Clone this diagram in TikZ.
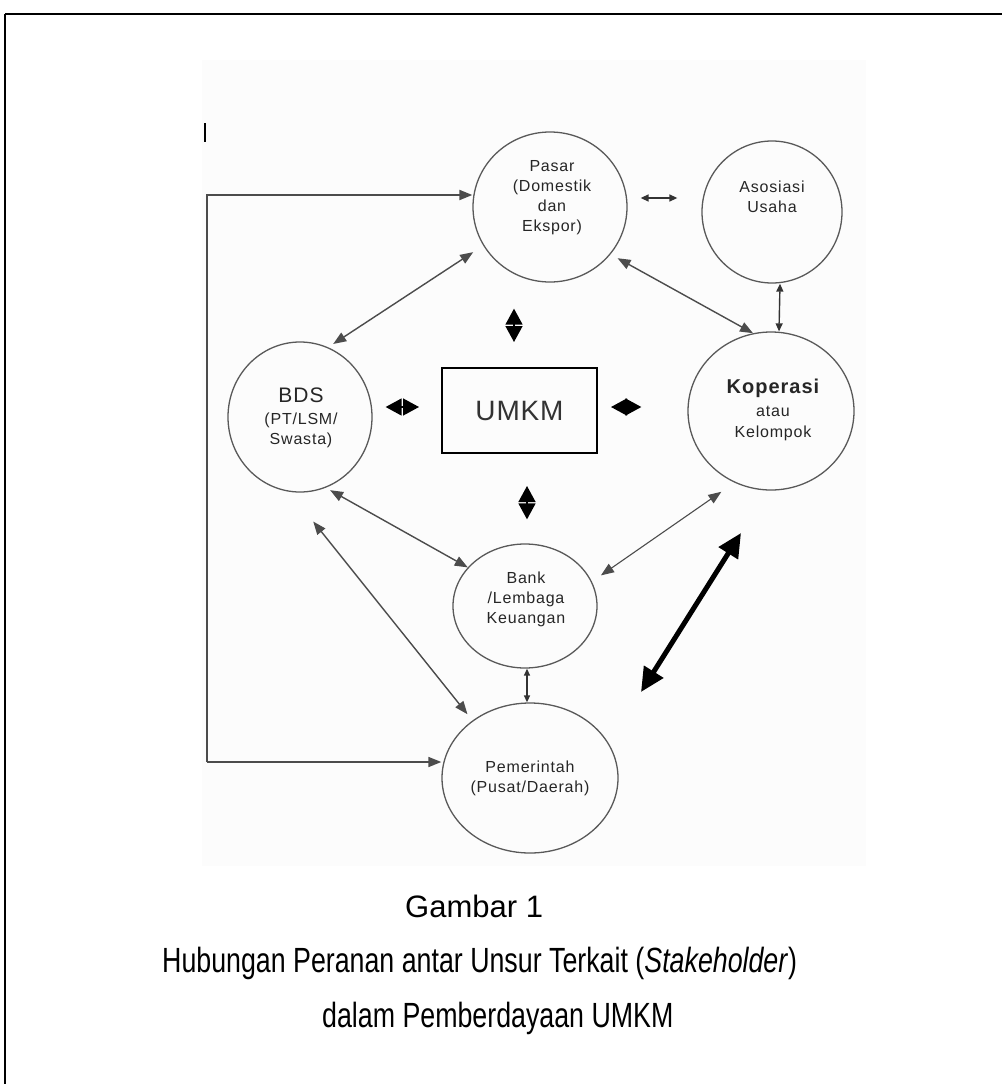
\documentclass[tikz,border=0pt]{standalone}
\usepackage{fontspec}
\setmainfont{Liberation Sans}
\newfontfamily\lblfont{Liberation Sans}[LetterSpace=5]
\newfontfamily\boxfont{Liberation Sans}[LetterSpace=3]
\newfontfamily\narrowfont{Liberation Sans}[FakeStretch=0.765]
\usetikzlibrary{arrows.meta,shapes.geometric}
\begin{document}
\begin{tikzpicture}[x=1pt,y=-1pt,
  ring/.style={ellipse, draw=black!65, line width=1.3pt, inner sep=0pt},
  lbl/.style={font=\lblfont\fontsize{16}{20}\selectfont, text=black!85, align=center, inner sep=0pt},
  conn/.style={draw=black!70, line width=1.4pt, {Triangle[length=13pt,width=10pt]}-{Triangle[length=13pt,width=10pt]}},
  smallconn/.style={draw=black!80, line width=1.4pt, {Triangle[length=8pt,width=7pt]}-{Triangle[length=8pt,width=7pt]}},
  fat/.style={draw=black, line width=1.5pt, {Triangle[length=16pt,width=17pt]}-{Triangle[length=16pt,width=17pt]}},
  bigarrow/.style={draw=black, line width=5pt, {Triangle[length=24pt,width=22pt]}-{Triangle[length=24pt,width=22pt]}},
  feed/.style={draw=black!70, line width=1.6pt},
  captext/.style={font=\fontsize{31}{37}\selectfont, anchor=base west, inner sep=0pt},
  capnarrow/.style={font=\narrowfont\fontsize{35}{40}\selectfont, anchor=base west, inner sep=0pt}
]
\useasboundingbox (0,0) rectangle (1002,1084);
% photo background and frame
\fill[black!1] (202,60) rectangle (866,866);
\draw[line width=2.6pt] (5,14) -- (1002,14);
\draw[line width=2pt] (5,14) -- (5,1084);
\draw[line width=2.5pt] (205,123) -- (205,142);

% nodes
\node[ring, minimum width=154pt, minimum height=150pt] (pasar) at (550,207) {};
\node[ring, minimum width=140pt, minimum height=142pt] (asos) at (772,212) {};
\node[ring, minimum width=166pt, minimum height=158pt] (kop) at (771,411) {};
\node[ring, minimum width=144pt, minimum height=150pt] (bds) at (300,417) {};
\node[draw, line width=2pt, minimum width=155pt, minimum height=85pt, inner sep=0pt,
      font=\boxfont\fontsize{28}{32}\selectfont, text=black!80] (umkm) at (519.5,410.5) {UMKM};
\node[ring, minimum width=144pt, minimum height=124pt] (bank) at (525,606) {};
\node[ring, minimum width=176pt, minimum height=150pt] (pem) at (530,778) {};

% labels
\node[lbl] (pasarT) at (552,198) {Pasar\\(Domestik\\dan\\Ekspor)};
\node[lbl] (asosT) at (772,197) {Asosiasi\\Usaha};
\node[lbl, font=\lblfont\fontsize{20}{24}\selectfont\bfseries] (kopA) at (773,388) {Koperasi};
\node[lbl] (kopB) at (773,411) {atau};
\node[lbl] (kopC) at (773,433) {Kelompok};
\node[lbl, font=\lblfont\fontsize{21}{24}\selectfont] (bdsA) at (301,395) {BDS};
\node[lbl] (bdsB) at (301,430) {(PT/LSM/\\Swasta)};
\node[lbl] (bankT) at (526,599) {Bank\\/Lembaga\\Keuangan};
\node[lbl] (pemT) at (530,778) {Pemerintah\\(Pusat/Daerah)};

% feedback line on the left
\coordinate (c1) at (207,195);
\coordinate (c2) at (207,762);
\draw[feed, line width=2pt, -{Triangle[length=13pt,width=10pt]}] (c2) -- (c1) -- (pasar.west |- c1);
\draw[feed, -{Triangle[length=13pt,width=10pt]}] (c2) -- (pem.west |- c2);

% connectors
\draw[smallconn, shorten <=13pt, shorten >=24pt] ([yshift=9pt]pasar.east) -- ([yshift=14pt]asos.west);
\draw[smallconn] ([xshift=8pt]asos.south) -- ([xshift=8pt]kop.north);
\draw[conn, shorten <=8pt] (pasar.-38) -- (kop.103);
\draw[conn, shorten <=12pt, shorten >=6pt] (pasar.210) -- (bds.68);
\draw[conn, shorten <=5pt] (bds.-70) -- (bank.146);
\draw[conn, shorten <=38pt, shorten >=8pt] (bds.-98) -- (pem.135);
\draw[conn, line width=1.1pt, shorten <=11pt, shorten >=16pt] (bank.20) -- (kop.-117);
\draw[smallconn, {Triangle[length=7pt,width=6pt]}-{Triangle[length=7pt,width=6pt]}] ([xshift=2pt]bank.south) -- ([xshift=-3pt]pem.north);

% fat double arrows around UMKM
\draw[fat, shorten <=13pt, shorten >=22pt] ([yshift=10pt]bds.east) -- ([yshift=3.5pt]umkm.west);
\draw[fat, shorten <=13pt, shorten >=46pt] ([yshift=3.5pt]umkm.east) -- ([yshift=4pt]kop.west);
\draw[fat, shorten <=26pt, shorten >=25pt] ([xshift=-36pt]pasar.south) -- ([xshift=-5.5pt]umkm.north);
\draw[fat, shorten <=32pt, shorten >=24pt] ([xshift=7.5pt]umkm.south) -- ([xshift=2pt]bank.north);

% thick arrow
\coordinate (tk1) at (741,533);
\coordinate (tk2) at (641,692);
\draw[bigarrow] (tk1) -- (tk2);

% caption
\node[captext] (cap1) at (405,917) {Gambar 1};
\node[capnarrow] (cap2) at (162,972) {Hubungan Peranan antar Unsur Terkait (\textit{Stakeholder})};
\node[capnarrow] (cap3) at (322,1027) {dalam Pemberdayaan UMKM};
\end{tikzpicture}
\end{document}
